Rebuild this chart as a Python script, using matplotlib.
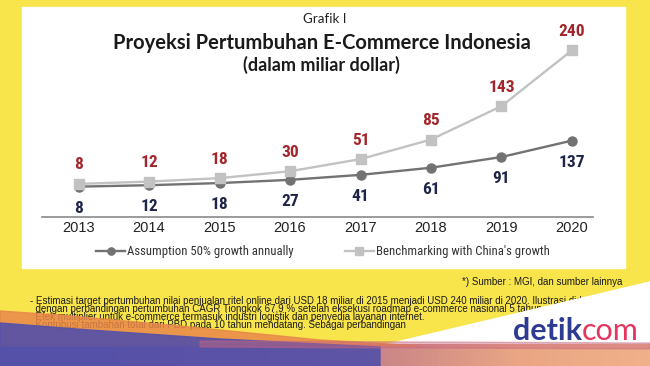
import matplotlib
matplotlib.use('Agg')
import os
import matplotlib.pyplot as plt
import numpy as np
from matplotlib.patches import Polygon, Rectangle
from matplotlib.colors import LinearSegmentedColormap
from matplotlib import font_manager as fm
from matplotlib.font_manager import FontProperties

# ---------------- data ----------------
years = ['2013', '2014', '2015', '2016', '2017', '2018', '2019', '2020']
assumption = [8, 12, 18, 27, 41, 61, 91, 137]
benchmark = [8, 12, 18, 30, 51, 85, 143, 240]

chart_label = 'Grafik I'
title = 'Proyeksi Pertumbuhan E-Commerce Indonesia'
subtitle = '(dalam miliar dollar)'
legend_labels = ['Assumption 50% growth annually', "Benchmarking with China's growth"]
source = '*) Sumber : MGI, dan sumber lainnya'
notes = [
    '- Estimasi target pertumbuhan nilai penjualan ritel online dari USD 18 miliar di 2015 menjadi USD 240 miliar di 2020. Ilustrasi didapat',
    '  dengan perbandingan pertumbuhan CAGR Tiongkok 67,9 % setelah eksekusi roadmap e-commerce nasional 5 tahun',
    '  Efek multiplier untuk e-commerce termasuk industri logistik dan penyedia layanan internet.',
    '  Kontribusi tambahan total dari PBD pada 10 tahun mendatang. Sebagai perbandingan',
]
logo_a, logo_b = 'detik', 'com'

# ---------------- fonts ----------------
all_files = set(fm.findSystemFonts()) | {f.fname for f in fm.fontManager.ttflist}


def pick(prefs):
    for p in prefs:
        for f in sorted(all_files):
            if os.path.basename(f).lower().startswith(p.lower()):
                return f
    return None


nb_file = pick(['LiberationSansNarrow-Bold.', 'RobotoCondensed-Bold.', 'Roboto-CondensedBold',
                'DejaVuSansCondensed-Bold.', 'NotoSans-CondensedBold.', 'OpenSans-CondensedBold'])
nr_file = pick(['LiberationSansNarrow-Regular.', 'RobotoCondensed-Regular.', 'Roboto-Condensed.',
                'DejaVuSansCondensed.', 'NotoSans-Condensed.', 'OpenSans-Condensed.'])


def narrow(size, bold=False):
    f = nb_file if bold else nr_file
    if f:
        return FontProperties(fname=f, size=size)
    return FontProperties(family='Liberation Sans', weight='bold' if bold else 'normal',
                          size=size * 0.84)


names = {f.name for f in fm.fontManager.ttflist}
TITLEF = 'Lato' if 'Lato' in names else 'DejaVu Sans'

W, H = 650, 366
YEL = '#F8E44B'
fig = plt.figure(figsize=(6.5, 3.66), dpi=100, facecolor=YEL)

# background / decoration axes in pixel coordinates
bg = fig.add_axes([0, 0, 1, 1], zorder=0)
bg.set_xlim(0, W)
bg.set_ylim(H, 0)
bg.axis('off')
bg.add_patch(Rectangle((0, 0), W, H, color=YEL, zorder=0))
bg.add_patch(Rectangle((22, 7), 603, 261, color='white', zorder=1))

bg.text(325, 19, chart_label, ha='center', va='center', fontsize=9.6,
        family=TITLEF, color='#222222', zorder=2)
bg.text(322, 43, title, ha='center', va='center', fontsize=14.5,
        family=TITLEF, fontweight='bold', color='#1a1a1a', zorder=2)
bg.text(321, 65, subtitle, ha='center', va='center', fontsize=13,
        family=TITLEF, fontweight='bold', color='#1a1a1a', zorder=2)

bg.text(622, 282, source, ha='right', va='center', fontsize=7.0,
        family='Liberation Sans', color='#1a1a1a', zorder=2)
bg.text(30, 295.5, '\n'.join(notes), ha='left', va='top', fontsize=7.0,
        linespacing=0.78, family='Liberation Sans', color='#1a1a1a', zorder=2)

# white wedge behind logo
bg.add_patch(Polygon([(380, 346), (650, 282), (650, 346)], closed=True,
                     color='white', zorder=4))
# bottom gradient band
cmap = LinearSegmentedColormap.from_list(
    'band', ['#4B56AA', '#6657A8', '#9C6898', '#CC8788', '#EAA684', '#F0B089'])
grad = np.linspace(0, 1, 400).reshape(1, -1)
bg.imshow(grad, cmap=cmap, extent=(0, W, H, 344), aspect='auto', zorder=5)
# left waves
bg.add_patch(Polygon([(0, 311), (60, 315), (180, 326), (320, 340), (420, 346), (0, 346)],
                     closed=True, color='#E8874A', alpha=0.85, zorder=6))
bg.add_patch(Polygon([(0, 323), (90, 330), (220, 339), (380, 347), (380, H), (0, H)],
                     closed=True, color='#5651A8', alpha=0.92, zorder=7))
bg.add_patch(Polygon([(200, 341), (650, 343), (650, 349), (200, 347)],
                     closed=True, color='#C7667F', alpha=0.45, zorder=7))

t1 = bg.text(513, 340, logo_a, ha='left', va='baseline', fontsize=22,
             family=TITLEF, fontweight='bold', color='#2D3B93', zorder=8)
bg.annotate(logo_b, xy=(1, 0), xycoords=t1, ha='left', va='bottom', fontsize=22,
            family=TITLEF, color='#E5355F', zorder=8)

# ---------------- chart ----------------
left_px, right_px, bot_px, top_px = 42, 593, 217.3, 30
ax = fig.add_axes([left_px / W, 1 - bot_px / H, (right_px - left_px) / W,
                   (bot_px - top_px) / H], zorder=2)
ax.patch.set_alpha(0)
ax2 = ax.twinx()
ax2.patch.set_alpha(0)

x = np.arange(len(years))
dark_c, light_c = '#727272', '#C2C2C2'
l1, = ax.plot(x, assumption, color=dark_c, lw=1.7, marker='o', ms=6.5,
              markeredgecolor=dark_c, markerfacecolor=dark_c)
l2, = ax2.plot(x, benchmark, color=light_c, lw=1.7, marker='s', ms=7,
               markeredgecolor=light_c, markerfacecolor=light_c)

for i, v in enumerate(assumption):
    ax.annotate(str(v), (i, v), xytext=(0, -15.5), textcoords='offset points',
                ha='center', va='center', fontproperties=narrow(12.5, True),
                color='#1E2548')
for i, v in enumerate(benchmark):
    ax2.annotate(str(v), (i, v), xytext=(0, 13.7), textcoords='offset points',
                 ha='center', va='center', fontproperties=narrow(12.5, True),
                 color='#A3262C')

ax.set_xlim(-0.518, 7.298)
ax.set_ylim(-77.9, 446.8)
ax2.set_ylim(-50.0, 275.2)
ax.set_xticks(x)
ax.set_xticklabels(years, fontsize=10.5, family='Liberation Sans', color='#222222')
ax.tick_params(axis='x', length=0, pad=2.8)
ax.set_yticks([])
ax2.set_yticks([])
for a in (ax, ax2):
    for s in ('top', 'left', 'right'):
        a.spines[s].set_visible(False)
ax2.spines['bottom'].set_visible(False)
ax.spines['bottom'].set_color('#8a8a8a')
ax.spines['bottom'].set_linewidth(1.2)

fig.legend([l1, l2], legend_labels, loc='center', bbox_to_anchor=(323 / W, 1 - 251.7 / H),
           ncol=2, frameon=False, prop=narrow(9.2), markerscale=0.8,
           handlelength=2.27, handletextpad=0.15, columnspacing=4.0, labelcolor='#333333')

fig.savefig('out.png', dpi=100, facecolor=YEL)
